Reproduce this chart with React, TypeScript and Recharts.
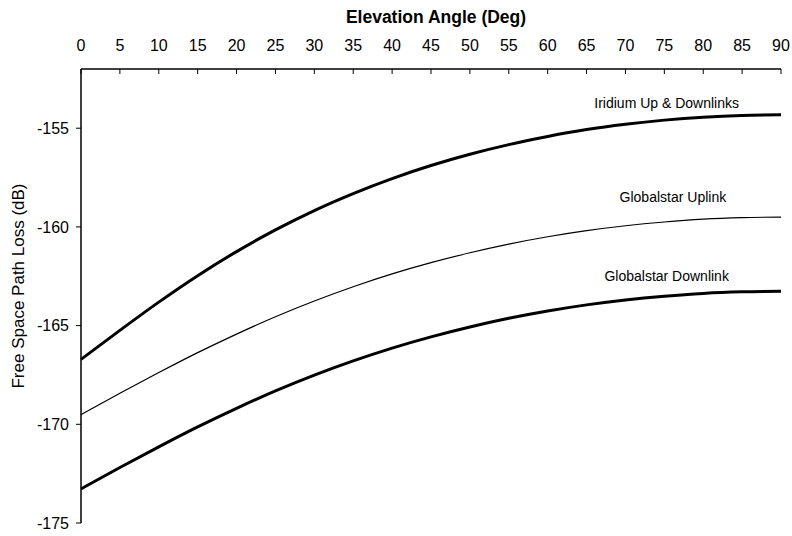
import { LineChart, Line, XAxis, YAxis, ReferenceDot } from 'recharts';

// elevation angle in degrees
const elevation = [0, 5, 10, 15, 20, 25, 30, 35, 40, 45, 50, 55, 60, 65, 70, 75, 80, 85, 90];

// free space path loss (dB)
const iridium = [
  -166.71, -165.24, -163.81, -162.47, -161.25, -160.15, -159.17, -158.31, -157.55, -156.89,
  -156.32, -155.83, -155.42, -155.07, -154.8, -154.59, -154.44, -154.35, -154.32,
];
const globalstarUplink = [
  -169.51, -168.43, -167.38, -166.37, -165.43, -164.55, -163.75, -163.03, -162.38, -161.81,
  -161.31, -160.87, -160.5, -160.19, -159.94, -159.75, -159.61, -159.53, -159.5,
];
const globalstarDownlink = [
  -173.27, -172.19, -171.14, -170.13, -169.19, -168.31, -167.51, -166.79, -166.14, -165.57,
  -165.07, -164.63, -164.26, -163.95, -163.7, -163.51, -163.37, -163.29, -163.26,
];

const xTicks = [0, 5, 10, 15, 20, 25, 30, 35, 40, 45, 50, 55, 60, 65, 70, 75, 80, 85, 90];
const yTicks = [-175, -170, -165, -160, -155];

const chartData = elevation.map((e, i) => ({
  elevation: e,
  iridium: iridium[i],
  gsUp: globalstarUplink[i],
  gsDown: globalstarDownlink[i],
}));

const FONT = '"Liberation Sans", Arial, Helvetica, sans-serif';

// top axis: tick marks point down into the plot, labels sit above
function TopTick(props: any) {
  const { x, y, payload } = props;
  return (
    <g>
      <line x1={x} y1={y} x2={x} y2={y + 5} stroke="#000" strokeWidth={1} />
      <text x={x} y={y - 18} textAnchor="middle" fontSize={16} fill="#000" fontFamily={FONT}>
        {payload.value}
      </text>
    </g>
  );
}

function XTitle(props: any) {
  const vb = props.viewBox;
  return (
    <text
      x={vb.x + vb.width / 2 + 5}
      y={vb.y + 23}
      textAnchor="middle"
      fontSize={17.5}
      fontWeight="bold"
      fill="#000"
      fontFamily={FONT}
    >
      Elevation Angle (Deg)
    </text>
  );
}

function YTitle(props: any) {
  const vb = props.viewBox;
  const cx = vb.x + 24;
  const cy = vb.y + vb.height / 2 - 10;
  return (
    <text
      x={cx}
      y={cy}
      transform={`rotate(-90, ${cx}, ${cy})`}
      textAnchor="middle"
      fontSize={17}
      fill="#000"
      fontFamily={FONT}
    >
      Free Space Path Loss (dB)
    </text>
  );
}

const labelStyle = { fontSize: 14, fill: '#000', fontFamily: FONT };

export default function App() {
  return (
    <div style={{ position: 'absolute', left: 0, top: 0, background: '#fff' }}>
      <LineChart
        width={792}
        height={536}
        data={chartData}
        margin={{ top: 0, right: 11, bottom: 13, left: 0 }}
      >
        <XAxis
          dataKey="elevation"
          type="number"
          orientation="top"
          domain={[0, 90]}
          ticks={xTicks}
          height={69}
          tickSize={0}
          tickMargin={0}
          tickLine={false}
          tick={<TopTick />}
          axisLine={{ stroke: '#000', strokeWidth: 1.5 }}
          label={{ content: <XTitle /> }}
        />
        <YAxis
          type="number"
          domain={[-175, -152]}
          ticks={yTicks}
          width={81}
          tickSize={5}
          tickMargin={7}
          tickLine={{ stroke: '#000' }}
          axisLine={{ stroke: '#000', strokeWidth: 1.5 }}
          tick={{ fontSize: 16, fill: '#000', fontFamily: FONT }}
          allowDataOverflow
          label={{ content: <YTitle /> }}
        />
        <Line
          type="monotone"
          dataKey="iridium"
          stroke="#000"
          strokeWidth={3}
          dot={false}
          isAnimationActive={false}
        />
        <Line
          type="monotone"
          dataKey="gsUp"
          stroke="#000"
          strokeWidth={1.2}
          dot={false}
          isAnimationActive={false}
        />
        <Line
          type="monotone"
          dataKey="gsDown"
          stroke="#000"
          strokeWidth={3}
          dot={false}
          isAnimationActive={false}
        />
        <ReferenceDot
          x={75.3}
          y={-153.7}
          r={0}
          fill="none"
          stroke="none"
          label={{ value: 'Iridium Up & Downlinks', position: 'center', style: labelStyle }}
        />
        <ReferenceDot
          x={76.1}
          y={-158.5}
          r={0}
          fill="none"
          stroke="none"
          label={{ value: 'Globalstar Uplink', position: 'center', style: labelStyle }}
        />
        <ReferenceDot
          x={75.3}
          y={-162.5}
          r={0}
          fill="none"
          stroke="none"
          label={{ value: 'Globalstar Downlink', position: 'center', style: labelStyle }}
        />
      </LineChart>
    </div>
  );
}
